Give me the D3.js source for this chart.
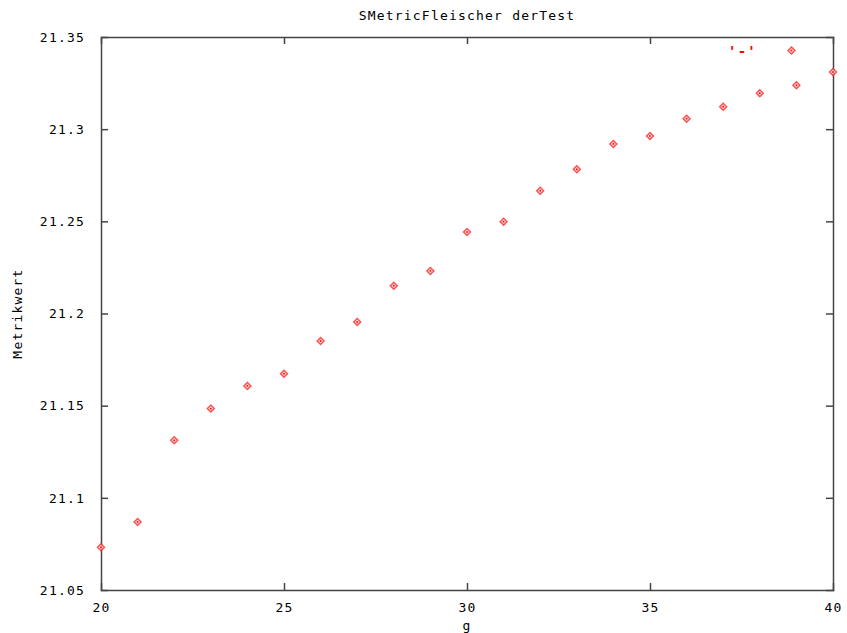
<!DOCTYPE html>
<html>
<head>
<meta charset="utf-8">
<script src="https://cdn.jsdelivr.net/npm/d3@7"></script>
<style>
  body { margin: 0; background: #fff; }
  text { font-family: "DejaVu Sans Mono", "Liberation Mono", monospace; font-size: 13px; letter-spacing: 1.2px; fill: #000; }
</style>
</head>
<body>
<svg id="chart" width="847" height="633"></svg>
<script>
// data
const gValues = [20, 21, 22, 23, 24, 25, 26, 27, 28, 29, 30, 31, 32, 33, 34, 35, 36, 37, 38, 39, 40];
const metricValues = [21.0732, 21.0869, 21.1312, 21.1484, 21.1607, 21.1673, 21.1851, 21.1954, 21.2151, 21.2231,
  21.2442, 21.2498, 21.2666, 21.2782, 21.2920, 21.2963, 21.3057, 21.3122, 21.3195, 21.3238, 21.3310];
const xTicks = [20, 25, 30, 35, 40];
const yTicks = [21.05, 21.1, 21.15, 21.2, 21.25, 21.3, 21.35];
const titleText = "SMetricFleischer derTest";
const xLabel = "g";
const yLabel = "Metrikwert";
const legendLabel = "'-'";

const margin = {top: 37, right: 14, bottom: 43, left: 101};
const W = 847, H = 633;
const width = W - margin.left - margin.right,
      height = H - margin.top - margin.bottom;

const svg = d3.select("#chart");
const g = svg.append("g").attr("transform", "translate(" + margin.left + "," + margin.top + ")");

const x = d3.scaleLinear().domain([20, 40]).range([0, width]);
const y = d3.scaleLinear().domain([21.05, 21.35]).range([height, 0]);

const axisColor = "#444";
const tick = 7;

// bottom / top axes (ticks inward)
const xb = g.append("g").attr("transform", "translate(0," + height + ")")
  .call(d3.axisBottom(x).tickValues(xTicks).tickSize(-tick).tickPadding(tick + 6).tickFormat(d3.format("d")));
const xt = g.append("g")
  .call(d3.axisTop(x).tickValues(xTicks).tickSize(-tick).tickFormat(""));
// left / right axes
const yl = g.append("g")
  .call(d3.axisLeft(y).tickValues(yTicks).tickSize(-tick).tickPadding(tick + 9).tickFormat(d => String(+d.toFixed(2))));
const yr = g.append("g").attr("transform", "translate(" + width + ",0)")
  .call(d3.axisRight(y).tickValues(yTicks).tickSize(-tick).tickFormat(""));

[xb, xt, yl, yr].forEach(a => {
  a.select(".domain").attr("stroke", axisColor).attr("stroke-width", 1.5);
  a.selectAll(".tick line").attr("stroke", axisColor).attr("stroke-width", 1.5);
  a.selectAll("text").attr("font-family", null).attr("font-size", null).attr("fill", "#000");
});
// hide end ticks that sit on the frame
xb.selectAll(".tick").filter(d => d === 20 || d === 40).select("line").remove();
xt.selectAll(".tick").filter(d => d === 20 || d === 40).select("line").remove();
yl.selectAll(".tick").filter(d => d === 21.05 || d === 21.35).select("line").remove();
yr.selectAll(".tick").filter(d => d === 21.05 || d === 21.35).select("line").remove();

// diamond point markers
const diamond = "M0,-3.5L3.5,0L0,3.5L-3.5,0Z";
function marker(sel) {
  sel.append("path").attr("d", diamond).attr("fill", "#ffd0d0").attr("stroke", "#ff3030").attr("stroke-width", 1.4).attr("opacity", 0.85);
  sel.append("rect").attr("x", -0.8).attr("y", -0.8).attr("width", 1.6).attr("height", 1.6).attr("fill", "#ff0000");
}
g.selectAll(".pt").data(gValues).enter().append("g")
  .attr("class", "pt")
  .attr("transform", (d, i) => "translate(" + x(d) + "," + y(metricValues[i]) + ")")
  .call(marker);

// legend
svg.append("text").attr("x", 757).attr("y", 56).attr("text-anchor", "end")
  .style("fill", "#ff0000").style("font-weight", "bold").style("font-size", "14px").text(legendLabel);
svg.append("g").attr("transform", "translate(791.5,50.5)").call(marker);

// titles
svg.append("text").attr("x", margin.left + width / 2).attr("y", 20).attr("text-anchor", "middle").text(titleText);
svg.append("text").attr("x", margin.left + width / 2).attr("y", 630).attr("text-anchor", "middle").text(xLabel);
svg.append("text").attr("transform", "translate(22," + (margin.top + height / 2) + ") rotate(-90)")
  .attr("text-anchor", "middle").text(yLabel);
</script>
</body>
</html>
